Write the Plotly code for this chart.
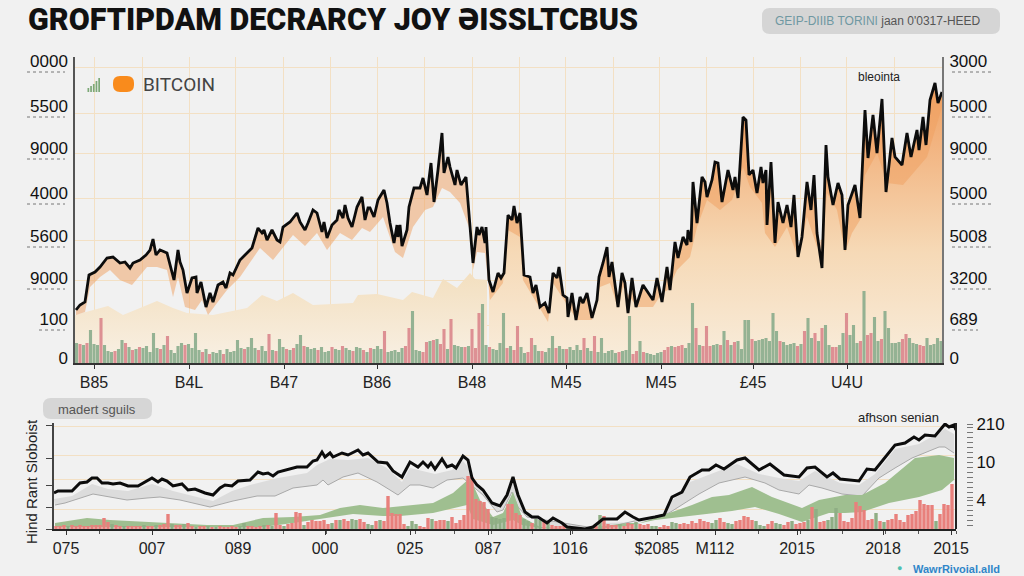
import plotly.graph_objects as go

# main panel
price_t = [1,5,10,14,20,25,32,38,45,50,55,58,65,71,75,78,81,85,92,97,99,103,105,108,112,117,121,122,126,131,135,138,143,148,151,155,158,165,172,177,183,187,189,192,197,202,205,208,215,222,225,230,233,238,242,247,249,252,257,262,264,268,270,273,277,282,287,290,293,
           295,299,303,309,312,315,319,322,323,325,327,332,334,339,345,348,350,352,356,359,363,367,369,373,375,380,382,386,391,393,398,402,404,407,410,411,414,418,423,426,429,433,437,439,442,445,449,455,458,461,465,470,474,478,482,484,488,492,493,497,501,505,508,512,517,522,524,528,532,534,537,543,547,550,553,557,561,568,578,582,587,592,595,
           600,603,608,612,613,616,618,622,627,630,632,637,640,643,647,653,658,660,663,668,671,674,678,682,686,688,691,692,696,700,703,708,712,716,719,723,727,732,736,739,742,747,751,753,758,763,767,770,773,780,785,790,793,798,802,807,811,817,820,827,832,836,842,844,848,851,855,860,863,867]
price_v = [53,58,61,88,91,96,105,106,100,101,95,100,103,108,113,124,108,113,110,90,83,113,101,93,70,85,86,70,81,56,70,61,78,81,75,90,88,103,110,115,135,130,133,123,133,123,121,136,141,150,141,133,140,153,150,131,141,125,138,143,153,145,158,145,136,156,166,143,155,
           155,146,163,173,160,140,120,138,126,138,117,133,156,175,175,185,175,168,200,161,193,230,190,206,196,178,193,178,186,160,100,136,128,136,120,136,83,71,90,85,90,148,143,157,140,150,88,86,70,78,56,60,50,90,85,96,68,65,46,70,43,66,60,70,45,63,86,100,116,86,101,56,90,80,50,85,56,78,63,85,61,96,73,
           121,105,126,118,133,121,181,140,186,181,166,183,201,200,161,193,173,186,165,246,243,188,193,170,196,180,193,138,201,120,161,140,158,136,168,106,126,181,153,188,130,95,218,186,158,180,168,113,158,178,145,253,205,248,210,264,171,225,206,198,230,206,233,213,246,218,263,280,260,271]
band_t = [1,10,15,25,35,45,57,72,82,92,98,103,110,120,127,133,142,152,165,175,185,198,208,218,230,242,252,265,277,287,295,308,320,328,338,350,358,367,375,385,395,398,402,410,415,428,433,445,448,458,473,478,487,502,517,525,535,543,548,562,578,587,593,602,615,622,632,645,657,668,675,687,690,700,712,723,732,742,748,752,762,770,777,785,790,802,812,828,852,867]
band_v = [48,51,76,86,93,83,78,96,96,93,66,86,56,53,63,48,60,73,86,100,115,103,116,128,117,130,113,130,123,135,131,146,111,105,136,153,156,175,171,160,133,93,111,110,63,80,133,126,83,66,41,80,66,43,43,76,80,55,76,56,56,70,73,93,106,136,163,153,163,196,176,160,130,116,136,105,146,116,126,170,153,111,130,143,188,210,180,178,206,256]
tan_t = [0,33,48,82,98,112,138,172,187,202,218,238,278,283,302,328,337,358,368,377,382,395,400,412]
tan_v = [48,57,48,62,55,50,48,55,68,62,70,58,60,68,69,63,71,65,84,78,75,90,84,83]
vol = [20,19,18,20,33,19,18,45,18,12, 11,12,14,23,20,16,13,14,16,15, 17,11,30,15,14,18,27,13,10,17,
       20,18,19,15,30,13,11,14,9,11, 10,13,9,14,11,12,23,15,14,16, 25,15,13,17,12,29,13,12,24,16,
       14,13,15,19,28,17,16,14,15,13, 16,11,12,16,14,13,17,15,13,12, 16,15,13,11,15,14,17,14,32,11,
       12,13,11,15,17,35,52,13,12,11, 21,22,23,24,19,34,14,44,18,17, 16,16,17,34,15,50,59,18,16,14,
       13,20,50,15,17,13,37,16,10,11, 25,18,12,12,11,15,27,15,17,14, 14,16,13,18,13,25,15,12,27,11,
       25,10,12,13,10,11,12,13,47,9, 12,22,11,10,9,8,10,11,13,16, 17,16,17,18,15,20,60,35,18,17,
       37,17,18,19,18,32,23,18,21,22, 14,43,43,24,22,23,24,25,22,50, 32,22,21,18,19,20,17,19,32,45,
       25,30,22,35,38,18,16,16,18,30, 50,28,38,20,22,72,28,30,46,22, 24,52,35,20,20,21,24,29,25,20,
       19,18,17,25,18,19,25,22]
vol_dir = ("grgrgggrgg" "grggrgrgrg" "ggggrgrggg" "grggggrgrg" "ggrgggggrg" "ggrggrgrgg" "rgrggrgggr" "gggrggrggr" "ggrgrgggrg"
           "ggggrrgggr" "rgrgrrgrgg" "grgrrrggrg" "gggrgrrggr" "rggrgggrgg" "rggggrggrg" "gggggrgggr" "rgrgggggrr" "grrrgggrgr"
           "rrggrgrgrg" "gggrgggggg" "grggggrgrg" "grgrggrrgg" "rgggrgrrgg" "rgggggrrgg" "grrggggg")
y_grid = [296,250,210,165,123,83,38]
x_grid = [19,67,114,160,208,255,302,349,397,444,490,538,584,631,678,725,771,819]
x_ticks = [19,114,209,302,397,491,586,678,772]
x_labels = ["B85","B4L","B47","B86","B48","M45","M45","£45","U4U"]
left_vals = [302,257,215,170,127,85,44,5]
left_labels = ["0000","5500","9000","4000","5600","9000","100","0"]
right_labels = ["3000","5000","9000","5000","5008","3200","689","0"]

# lower panel
sig_t = [0,4,18,26,33,38,43,48,54,59,66,74,84,91,98,104,108,113,119,128,134,141,151,159,166,171,178,184,196,204,209,214,219,224,234,243,253,259,263,268,271,276,279,288,294,
         304,309,314,324,333,339,348,356,364,369,374,377,381,388,393,398,402,409,414,418,423,429,438,446,453,459,464,471,478,484,493,499,508,513,526,531,539,549,563,571,579,585,
         601,610,618,628,636,648,655,662,670,683,691,705,716,730,745,753,761,773,779,786,805,813,821,831,841,851,860,865,871,881,891,895,900,902]
sig_v = [36,38,38,46,47,51,51,46,46,45,46,43,43,47,51,47,50,48,43,45,39,40,36,34,41,44,43,48,49,57,55,56,53,57,60,62,62,68,69,77,72,76,72,76,74,
         79,74,76,67,66,58,52,67,62,67,62,66,60,70,62,64,61,73,69,51,44,39,26,23,34,52,34,17,12,12,6,11,6,2,1,0,2,10,10,17,12,9,
         12,14,32,37,52,59,59,64,60,69,71,59,65,54,52,61,62,52,56,50,48,60,59,71,84,86,92,89,94,93,105,102,104,99]
grey_hi_t = [0,18,38,54,74,98,119,134,159,178,196,224,253,263,276,294,314,333,348,356,381,398,409,414,419,429,446,459,471,484,493,526,549,586,601,610,618,636,655,683,705,730,745,761,786,805,821,841,865,891,900]
grey_hi_v = [30,33,45,40,38,45,38,34,28,38,44,51,56,64,70,69,71,61,47,61,55,59,68,62,46,36,20,46,14,10,4,0,6,7,9,11,28,47,54,65,55,50,48,58,46,44,55,80,85,100,95]
grey_lo_t = [1,11,39,56,73,93,106,126,156,179,203,221,239,263,269,274,289,304,323,336,344,356,366,379,393,409,419,429,443,449,458,464,473,546,615,628,645,665,691,711,725,745,755,768,788,808,825,841,858,885,891,900]
grey_lo_v = [24,26,35,32,29,31,32,29,22,28,33,33,41,44,49,44,52,56,47,39,34,44,44,41,49,51,42,34,17,19,37,22,12,0,16,24,35,46,52,46,39,35,44,41,35,33,51,61,71,82,82,76]
green_hi_t = [1,33,56,99,153,179,209,239,266,286,306,329,349,379,399,416,426,439,449,459,468,486,519,543,573,586,601,618,638,658,675,698,718,748,765,791,808,831,861,885,900]
green_hi_v = [6,11,9,7,4,4,11,12,14,21,24,21,23,26,36,51,29,12,16,37,12,2,0,2,6,6,11,17,24,32,34,42,32,21,29,34,34,46,71,74,71]
green_lo_t = [1,46,99,153,209,239,266,279,299,329,346,379,413,419,439,459,468,486,519,543,573,601,618,645,678,701,725,748,775,791,808,835,865,888,900]
green_lo_v = [2,2,2,2,2,6,10,12,15,13,13,16,24,10,4,9,4,1,0,1,3,9,11,14,18,22,15,7,16,16,17,26,32,39,49]
sig_bars = [3,3,4,3,4,3,4,3,3,4, 4,4,11,7,5,4,3,3,3,3, 3,3,4,3,3,4,4,5,15,5, 4,4,5,6,3,2,3,3,3,2,
            2,3,2,2,3,2,3,6,3,3, 2,3,4,4,3,16,4,3,5,6, 17,16,4,7,9,8,8,9,5,6, 9,9,10,8,10,9,10,7,5,4,
            8,9,8,33,16,15,15,5,3,8, 5,3,2,11,10,8,9,9,8,12, 6,9,14,53,52,30,28,27,20,12, 11,10,11,25,25,16,14,10,8,6,
            10,9,8,6,4,3,3,4,3,2, 1,2,0,1,1,3,14,13,5,4, 4,5,3,6,5,7,5,4,5,3, 3,2,4,3,7,6,5,6,5,8,
            6,10,8,7,6,9,11,7,6,5, 8,9,13,12,9,8,4,3,5,8, 6,5,4,7,8,5,6,7,9,22, 20,7,8,9,12,21,16,8,7,11,
            27,23,19,9,10,16,8,7,9,10, 15,9,7,14,15,18,29,25,24,24, 8,15,25,24,45]
sig_dir = ("rrrgrrrrrr" "rrrrgrrgrr" "rrgrrgrrrg" "rrgrrgrrgr" "grrrrrggrr" "rrgrgrrgrr" "rrgrrrrrrg" "rgrrggrrgg"
           "rgrrrrrrgg" "grrrgrrrgr" "rrrrrrrrrg" "gggrrrrggr" "ggrgrrrrgg" "rrrggrgrrr" "rgrrrgrrrg" "grrrggrrrr"
           "rrrrggrrgg" "rrrrrgggrr" "ggrrgrrrgr" "grrgggrrrr" "rrrrrgrgrr" "rrrrrrrrrr" "grrrr")
sig_grid = [103,74,50,20]
sig_ticks = [12,98,184,271,356,434,516,603,661,743,829,897]
sig_labels = ["075","007","089","000","025","087","1016","$2085","M112","2015","2018","2015"]
sig_minor = [45,98,141,186,229,272,316,361,400,437,478,518,571,603,661,704,746,788,831,864,902]
sig_left_ticks = [104,71,44,22,0]
sig_right_vals = [105,67,29]
sig_right_labels = ["210","10","4"]
sig_dashes = [107,102,97,92,87,82,77,72,62,57,52,47,42,37,32,24,19,14,9,4]

BG = "#f1f1f1"
GRID = "#f3e0c4"
FONT = "Liberation Sans"
NO_LINE = dict(color="rgba(0,0,0,0)", width=0)


def px(x):
    return x / 1024


def py(y):
    return 1 - y / 576


def pill(x0, y0, x1, y1, r, color):
    # rounded rectangle, given in page pixels
    xa, xb, ya, yb = px(x0), px(x1), py(y0), py(y1)
    rx, ry = r / 1024, r / 576
    path = (f"M {xa+rx} {ya} L {xb-rx} {ya} Q {xb} {ya} {xb} {ya-ry} L {xb} {yb+ry} Q {xb} {yb} {xb-rx} {yb} "
            f"L {xa+rx} {yb} Q {xa} {yb} {xa} {yb+ry} L {xa} {ya-ry} Q {xa} {ya} {xa+rx} {ya} Z")
    return dict(type="path", path=path, xref="paper", yref="paper", fillcolor=color, line_width=0, layer="below")


def note(x, y, text, size, color="#222", xanchor="left", family=FONT, **kw):
    return dict(x=px(x), y=py(y), xref="paper", yref="paper", text=text, showarrow=False, xanchor=xanchor,
                yanchor="middle", font=dict(family=family, size=size, color=color), **kw)


fig = go.Figure()

# main panel: tan area, peach area, orange band
fig.add_trace(go.Scatter(x=tan_t, y=tan_v, mode="lines", line=NO_LINE, fill="tozeroy",
                         fillgradient=dict(type="vertical", start=0, stop=90,
                                           colorscale=[[0, "#f8f0e4"], [1, "#f3dfbf"]])))
fill_t = [t for t in price_t if t >= 414]
fill_v = price_v[-len(fill_t):]
fig.add_trace(go.Scatter(x=fill_t, y=fill_v, mode="lines", line=NO_LINE, fill="tozeroy",
                         fillgradient=dict(type="vertical", start=0, stop=280,
                                           colorscale=[[0, "#f8eddc"], [0.4, "#f6d9b6"], [0.8, "#f2b27e"], [1, "#f0a262"]])))
fig.add_trace(go.Scatter(x=price_t, y=price_v, mode="lines", line=NO_LINE))
fig.add_trace(go.Scatter(x=band_t, y=band_v, mode="lines", line=NO_LINE, fill="tonexty", fillcolor="rgba(240,160,95,0.5)"))

# volume and price go on the overlay axis so the bars sit above the fills
vol_x = [1.5 + 3.5 * i for i in range(len(vol))]
vol_colors = ["rgba(130,168,135,0.85)" if d == "g" else "rgba(216,128,135,0.85)" for d in vol_dir]
fig.add_trace(go.Bar(x=vol_x, y=vol, width=3.1, marker=dict(color=vol_colors, line_width=0), yaxis="y3"))
fig.add_trace(go.Scatter(x=price_t, y=price_v, mode="lines", line=dict(color="#0c0c0c", width=2.8), yaxis="y3"))

# lower panel
fig.add_trace(go.Scatter(x=grey_hi_t, y=grey_hi_v, mode="lines", line=NO_LINE, xaxis="x2", yaxis="y2"))
fig.add_trace(go.Scatter(x=grey_lo_t, y=grey_lo_v, mode="lines", line=dict(color="#a9a9a9", width=1), fill="tonexty",
                         fillcolor="#dcdcdc", xaxis="x2", yaxis="y2"))
fig.add_trace(go.Scatter(x=green_hi_t, y=green_hi_v, mode="lines", line=NO_LINE, xaxis="x2", yaxis="y2"))
fig.add_trace(go.Scatter(x=green_lo_t, y=green_lo_v, mode="lines", line=NO_LINE, fill="tonexty", fillcolor="#9fbf90",
                         xaxis="x2", yaxis="y2"))
sig_x = [2 + 4 * i for i in range(len(sig_bars))]
sig_colors = ["#e8807c" if d == "r" else "#8fae85" for d in sig_dir]
fig.add_trace(go.Bar(x=sig_x, y=sig_bars, width=3.4, marker=dict(color=sig_colors, line_width=0), xaxis="x2", yaxis="y4"))
fig.add_trace(go.Scatter(x=sig_t, y=sig_v, mode="lines", line=dict(color="#0c0c0c", width=3), xaxis="x2", yaxis="y4"))

shapes = [pill(762, 8, 1000, 34, 8, "#d5d5d5"), pill(43, 398, 152, 419, 8, "#d6d6d6"), pill(113, 76, 134, 92, 7, "#f98b1c")]
# small signal icon next to the legend
for i, top in enumerate([88, 86, 84, 81, 78]):
    shapes.append(dict(type="rect", xref="paper", yref="paper", x0=px(87.5 + 2.7 * i), x1=px(89.2 + 2.7 * i),
                       y0=py(92), y1=py(top), fillcolor="#7da877", line_width=0))
# dotted rules under the side labels
for val, lab in zip(left_vals[:-1], left_labels[:-1]):
    x0 = 39 if lab == "100" else 27
    shapes.append(dict(type="line", xref="paper", yref="y", x0=px(x0), x1=px(65), y0=val - 11, y1=val - 11,
                       line=dict(color="#777", width=1, dash="dot")))
for val, lab in zip(left_vals[:-1], right_labels[:-1]):
    x1 = 978 if lab == "689" else 991
    shapes.append(dict(type="line", xref="paper", yref="y", x0=px(952), x1=px(x1), y0=val - 11, y1=val - 11,
                       line=dict(color="#777", width=1, dash="dot")))
shapes.append(dict(type="line", xref="paper", yref="paper", x0=px(956), x1=px(956), y0=py(529), y1=py(423),
                   line=dict(color="#222", width=2)))

annotations = [
    dict(x=px(26), y=py(20), xref="paper", yref="paper", text="GROFTIPDAM DECRARCY JOY ƏISSLTCBUS", showarrow=False,
         xanchor="left", yanchor="middle", font=dict(family="Roboto", size=30.5, color="#111", weight=900)),
    note(773, 21, "<span style='color:#6f98a2'>GEIP-DIIIB TORINI</span> jaan 0'0317-HEED", 12, "#555"),
    note(141, 84, "BITCOIN", 19, "#444", family="Roboto"),
    note(856, 77, "bleointa", 12, "#222"),
    note(97, 409, "madert sguils", 13, "#555", xanchor="center"),
    note(856, 417, "afhson senian", 13, "#222"),
    note(911, 569, "<b>WawrRivoial.alld</b>", 11, "#2f86c9"),
    note(899, 568, "●", 9, "#4fc0b0", xanchor="center"),
    note(31, 482, "Hind Rant Sloboist", 15, "#222", xanchor="center", textangle=-90),
]

fig.update_layout(
    width=1024, height=576, autosize=False, showlegend=False, barmode="overlay",
    paper_bgcolor=BG, plot_bgcolor=BG, margin=dict(l=0, r=0, t=0, b=0, autoexpand=False),
    shapes=shapes, annotations=annotations,
    font=dict(family=FONT, color="#222"),
    xaxis=dict(domain=[px(75), px(942)], range=[0, 867], showgrid=False, zeroline=False, showline=True, linecolor="#333",
               linewidth=1.5, ticks="outside", ticklen=4, tickcolor="#333", tickmode="array", tickvals=x_ticks,
               ticktext=x_labels, tickfont=dict(size=16, color="#222"),
               minor=dict(tickmode="array", tickvals=x_grid, showgrid=True, gridcolor=GRID, gridwidth=1, ticks="")),
    yaxis=dict(domain=[py(363), py(57)], range=[0, 306], showgrid=False, zeroline=False, showline=True, linecolor="#555",
               linewidth=1.5, tickmode="array", tickvals=left_vals, ticktext=left_labels, ticks="",
               tickfont=dict(size=17, color="#111"), ticklabelstandoff=2,
               minor=dict(tickmode="array", tickvals=y_grid, showgrid=True, gridcolor=GRID, gridwidth=1, ticks="")),
    yaxis3=dict(overlaying="y", side="right", anchor="x", range=[0, 306], showgrid=False, zeroline=False, showline=True,
                linecolor="#777", linewidth=2, tickmode="array", tickvals=left_vals, ticktext=right_labels, ticks="",
                tickfont=dict(size=17, color="#111"), ticklabelstandoff=2),
    xaxis2=dict(domain=[px(54), px(956)], range=[0, 902], anchor="y2", showgrid=False, zeroline=False, showline=True,
                linecolor="#222", linewidth=1.5, ticks="outside", ticklen=4, tickcolor="#333", tickmode="array",
                tickvals=sig_ticks, ticktext=sig_labels, tickfont=dict(size=16, color="#222"),
                minor=dict(tickmode="array", tickvals=sig_minor, ticks="outside", ticklen=3, tickcolor="#555")),
    yaxis2=dict(domain=[py(529), py(423)], range=[0, 106], anchor="x2", showgrid=False, zeroline=False, showline=True,
                linecolor="#444", linewidth=1.5, ticks="outside", ticklen=6, tickcolor="#444", tickmode="array",
                tickvals=sig_left_ticks, showticklabels=False,
                minor=dict(tickmode="array", tickvals=sig_grid, showgrid=True, gridcolor=GRID, gridwidth=1, ticks="")),
    yaxis4=dict(overlaying="y2", side="right", anchor="free", position=px(966), range=[0, 106], showgrid=False,
                zeroline=False, showline=False, ticks="outside", ticklen=6, tickcolor="#777", tickmode="array",
                tickvals=sig_right_vals, ticktext=sig_right_labels, tickfont=dict(size=17, color="#111"),
                minor=dict(tickmode="array", tickvals=sig_dashes, ticks="outside", ticklen=6, tickcolor="#777")),
)

fig.write_html("out.html", config={"displayModeBar": False}, post_script="document.body.style.margin='0';")
